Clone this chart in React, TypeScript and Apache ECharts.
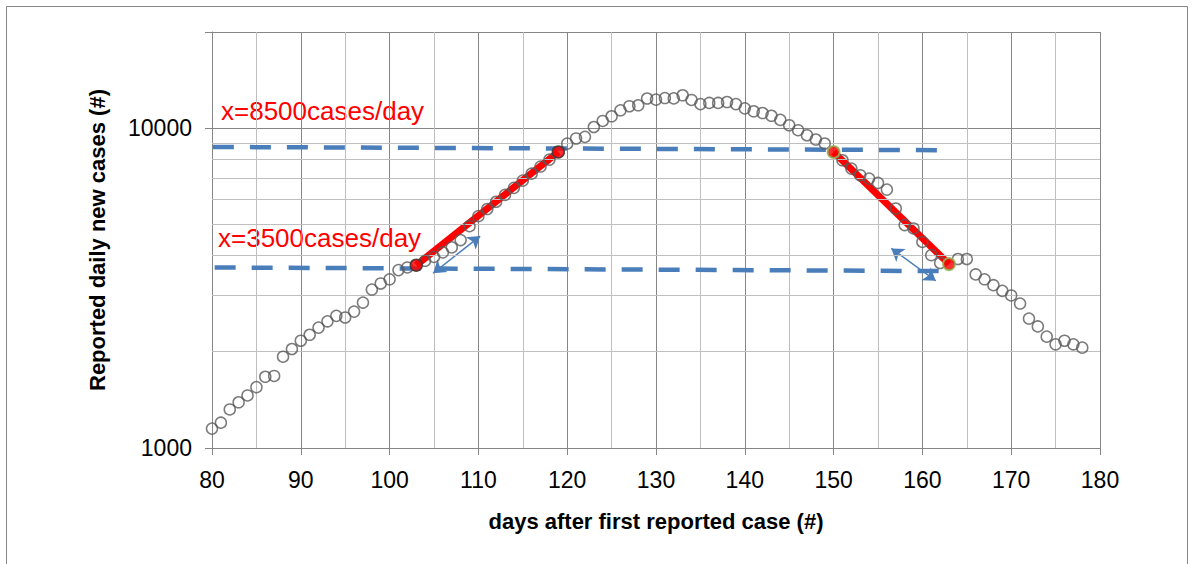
import React, { useEffect, useRef } from 'react';
import * as echarts from 'echarts';

const days = [
  80, 81, 82, 83, 84, 85, 86, 87, 88, 89,
  90, 91, 92, 93, 94, 95, 96, 97, 98, 99,
  100, 101, 102, 103, 104, 105, 106, 107, 108, 109,
  110, 111, 112, 113, 114, 115, 116, 117, 118, 119,
  120, 121, 122, 123, 124, 125, 126, 127, 128, 129,
  130, 131, 132, 133, 134, 135, 136, 137, 138, 139,
  140, 141, 142, 143, 144, 145, 146, 147, 148, 149,
  150, 151, 152, 153, 154, 155, 156, 157, 158, 159,
  160, 161, 162, 163, 164, 165, 166, 167, 168, 169,
  170, 171, 172, 173, 174, 175, 176, 177, 178,
];

const dailyCases = [
  1150, 1200, 1320, 1390, 1460, 1550, 1670, 1680, 1930, 2040,
  2165, 2260, 2380, 2490, 2590, 2560, 2670, 2850, 3130, 3270,
  3370, 3600, 3670, 3730, 3850, 3960, 4090, 4240, 4470, 4940,
  5310, 5590, 5890, 6190, 6510, 6860, 7210, 7590, 7980, 8430,
  8950, 9290, 9400, 10090, 10540, 10900, 11380, 11720, 11800, 12390,
  12290, 12430, 12400, 12680, 12260, 11900, 12000, 12000, 12080, 11900,
  11540, 11300, 11160, 10940, 10620, 10220, 9860, 9510, 9220, 8960,
  8430, 7940, 7480, 7130, 6960, 6745, 6430, 5610, 4980, 4860,
  4410, 4010, 3790, 3760, 3900, 3900, 3490, 3370, 3230, 3100,
  3000, 2830, 2540, 2400, 2230, 2110, 2165, 2110, 2060,
];

const riseFit = [[103, 3730], [119, 8430]];
const fallFit = [[150, 8430], [163, 3760]];
const upperLevel = [[80.1, 8740], [162.3, 8540]];
const lowerLevel = [[80.3, 3670], [162.2, 3575]];
const arrowA = [[104.9, 3520], [110.2, 4600]];
const arrowB = [[156.5, 4210], [161.5, 3335]];
const minorYLines = [2000, 3000, 4000, 5000, 6000, 7000, 8000, 9000];
const majorYLabels = [1000, 10000];

const label8500 = 'x=8500cases/day';
const label3500 = 'x=3500cases/day';
const xTitle = 'days after first reported case (#)';
const yTitle = 'Reported daily new cases (#)';

const FONT = '"Liberation Sans", Arial, sans-serif';

export default function App() {
  const ref = useRef<HTMLDivElement>(null);

  useEffect(() => {
    if (!ref.current) return;
    const chart = echarts.init(ref.current, null, { renderer: 'svg' });
    const points = days.map((d, i) => [d, dailyCases[i]]);

    chart.setOption({
      animation: false,
      backgroundColor: '#ffffff',
      textStyle: { fontFamily: FONT },
      grid: { left: 212, right: 94, top: 32, bottom: 116, containLabel: false },
      xAxis: {
        type: 'value',
        min: 80,
        max: 180,
        interval: 10,
        name: xTitle,
        nameLocation: 'middle',
        nameGap: 62,
        nameTextStyle: { fontSize: 22, fontWeight: 'bold', color: '#000', fontFamily: FONT },
        axisLine: { show: true, onZero: false, lineStyle: { color: '#868686', width: 1 } },
        axisTick: { show: true, length: 7, lineStyle: { color: '#868686' } },
        axisLabel: { fontSize: 23, color: '#000', margin: 20, fontFamily: FONT },
        splitLine: { show: true, lineStyle: { color: '#868686', width: 1 } },
        minorTick: { show: false, splitNumber: 2 },
        minorSplitLine: { show: true, lineStyle: { color: '#bfbfbf', width: 1 } },
      },
      yAxis: {
        type: 'log',
        logBase: 10,
        min: 1000,
        max: 20000,
        name: yTitle,
        nameLocation: 'middle',
        nameGap: 104,
        nameTextStyle: { fontSize: 22, fontWeight: 'bold', color: '#000', fontFamily: FONT },
        axisLine: { show: true, lineStyle: { color: '#868686', width: 1 } },
        axisTick: { show: true, length: 7, lineStyle: { color: '#868686' } },
        axisLabel: {
          fontSize: 23,
          color: '#000',
          margin: 20,
          fontFamily: FONT,
          formatter: (v: number) => {
            const r = Math.round(v);
            return majorYLabels.includes(r) ? String(r) : '';
          },
        },
        splitLine: { show: true, lineStyle: { color: '#868686', width: 1 } },
      },
      series: [
        {
          type: 'line',
          data: [],
          silent: true,
          z: 1,
          markLine: {
            silent: true,
            symbol: 'none',
            label: { show: false },
            lineStyle: { color: '#bfbfbf', width: 1, type: 'solid' },
            data: minorYLines.map((v) => ({ yAxis: v })),
          },
        },
        {
          type: 'line',
          data: upperLevel,
          symbol: 'none',
          z: 2,
          lineStyle: { color: '#4a7ebb', width: 4.5, type: [21, 16] },
        },
        {
          type: 'line',
          data: lowerLevel,
          symbol: 'none',
          z: 2,
          lineStyle: { color: '#4a7ebb', width: 4.5, type: [21, 16] },
        },
        {
          type: 'lines',
          coordinateSystem: 'cartesian2d',
          z: 3,
          symbol: ['arrow', 'arrow'],
          symbolSize: 12,
          lineStyle: { color: '#4a7ebb', width: 1.5, opacity: 1 },
          data: [{ coords: arrowA }, { coords: arrowB }],
        },
        {
          type: 'line',
          data: riseFit,
          z: 4,
          symbol: 'none',
          lineStyle: { color: '#ff0000', width: 7 },
        },
        {
          type: 'line',
          data: fallFit,
          z: 4,
          symbol: 'none',
          lineStyle: { color: '#ff0000', width: 7 },
        },
        {
          type: 'scatter',
          data: points,
          z: 5,
          symbol: 'circle',
          symbolSize: 11,
          itemStyle: { color: 'rgba(255,255,255,0)', borderColor: '#5a5a5a', borderWidth: 1.5 },
        },
        {
          type: 'scatter',
          data: riseFit,
          z: 6,
          symbolSize: 12,
          itemStyle: { color: '#ff0000', borderColor: '#3a3a3a', borderWidth: 1.5 },
        },
        {
          type: 'scatter',
          data: fallFit,
          z: 6,
          symbolSize: 12,
          itemStyle: { color: '#ff0000', borderColor: '#9bbb59', borderWidth: 2 },
        },
      ],
      graphic: [
        {
          type: 'rect',
          silent: true,
          shape: { x: 6.5, y: 6.5, width: 1181, height: 570 },
          style: { fill: 'none', stroke: '#868686', lineWidth: 1 },
          z: -1,
        },
        {
          type: 'text',
          left: 221,
          top: 98,
          style: { text: label8500, fill: '#ff0000', fontSize: 26, fontFamily: FONT },
        },
        {
          type: 'text',
          left: 218,
          top: 225,
          style: { text: label3500, fill: '#ff0000', fontSize: 26, fontFamily: FONT },
        },
      ],
    });

    return () => chart.dispose();
  }, []);

  return (
    <div
      ref={ref}
      style={{ position: 'fixed', left: 0, top: 0, width: 1194, height: 564 }}
    />
  );
}
